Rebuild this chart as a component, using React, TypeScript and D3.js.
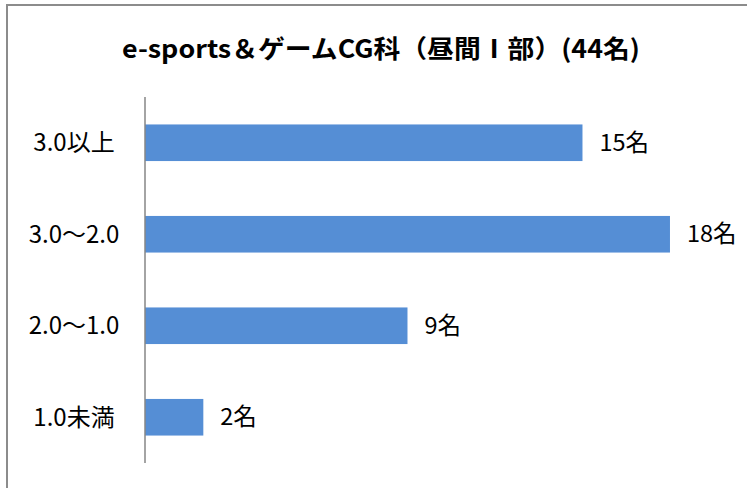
import React from "react";
import * as d3 from "d3";

const categories = ["3.0以上", "3.0〜2.0", "2.0〜1.0", "1.0未満"];
const values = [15, 18, 9, 2];
const valueSuffix = "名";
const title = "e-sports＆ゲームCG科（昼間Ⅰ部）(44名)";

const W = 747;
const H = 488;

export default function App() {
  const axisX = 145;
  const top = 97;
  const bottom = 463;
  const x = d3.scaleLinear().domain([0, 20]).range([axisX, axisX + 583.3]);
  const y = d3
    .scaleBand<string>()
    .domain(categories)
    .range([top, bottom])
    .paddingInner(0.6)
    .paddingOuter(0.3);
  const font = "'Noto Sans CJK JP', 'Noto Sans', sans-serif";
  return (
    <svg
      width={W}
      height={H}
      style={{ position: "absolute", left: 0, top: 0, background: "#fff" }}
    >
      <rect x={0} y={0} width={W} height={H} fill="#fff" />
      <rect x={7} y={5} width={W + 20} height={H + 20} fill="#fff" stroke="#8c8c8c" strokeWidth={2} />
      <text
        x={381}
        y={58}
        textAnchor="middle"
        fontFamily={font}
        fontWeight="bold"
        fontSize={25}
        textLength={518}
        lengthAdjust="spacingAndGlyphs"
        fill="#000"
      >
        {title}
      </text>
      {categories.map((c, i) => (
        <g key={c}>
          <rect
            x={x(0)}
            y={y(c)!}
            width={x(values[i]) - x(0)}
            height={y.bandwidth()}
            fill="#558ED5"
          />
          <text
            x={74}
            y={y(c)! + y.bandwidth() / 2}
            dy="0.35em"
            textAnchor="middle"
            fontFamily={font}
            fontSize={24}
            fill="#000"
          >
            {c}
          </text>
          <text
            x={x(values[i]) + 17}
            y={y(c)! + y.bandwidth() / 2}
            dy="0.35em"
            textAnchor="start"
            fontFamily={font}
            fontSize={23.5}
            fill="#000"
          >
            {values[i] + valueSuffix}
          </text>
        </g>
      ))}
      <line x1={axisX} x2={axisX} y1={top} y2={bottom} stroke="#868686" strokeWidth={1.5} />
    </svg>
  );
}
